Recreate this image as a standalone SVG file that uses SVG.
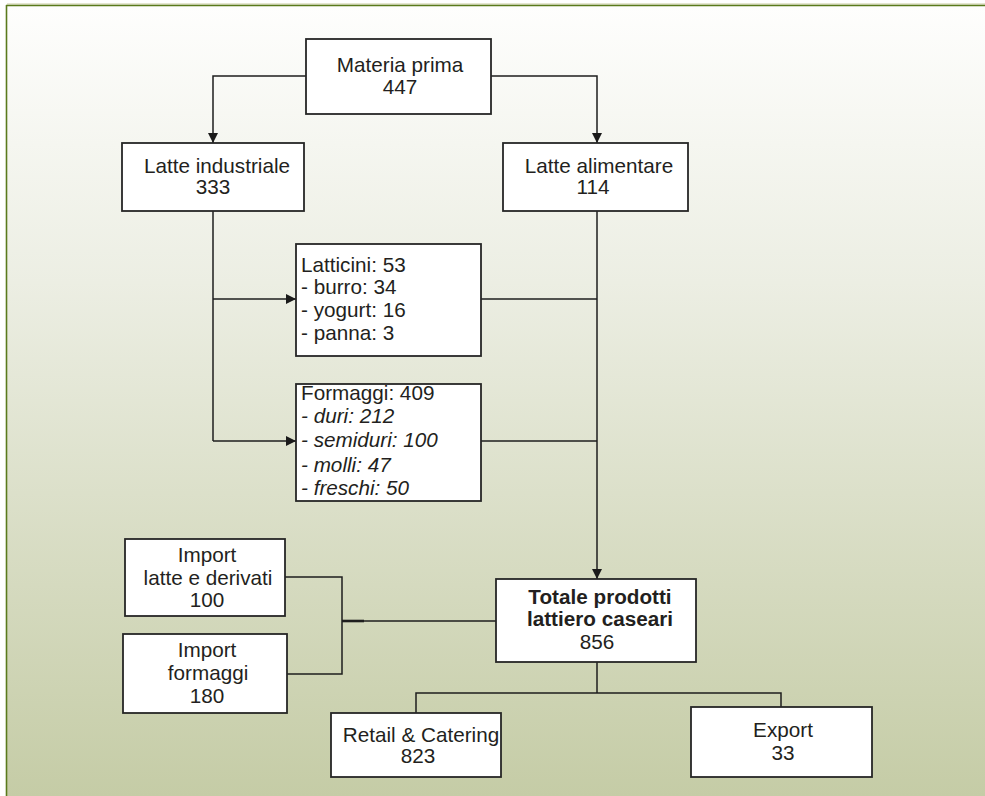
<svg xmlns="http://www.w3.org/2000/svg" width="985" height="796" viewBox="0 0 985 796">
<defs>
<linearGradient id="bg" x1="0" y1="0" x2="0" y2="1">
<stop offset="0" stop-color="#fefefd"/>
<stop offset="0.35" stop-color="#eceee3"/>
<stop offset="1" stop-color="#c5cca6"/>
</linearGradient>
<marker id="arr" viewBox="0 0 10 10" refX="10" refY="5" markerWidth="10" markerHeight="10" markerUnits="userSpaceOnUse" orient="auto">
<path d="M0,0 L10,5 L0,10 Z" fill="#1a1a1a"/>
</marker>
<style>
.box{fill:#ffffff;stroke:#262626;stroke-width:1.8}
.t{font-family:"Liberation Sans",Arial,sans-serif;font-size:20.7px;fill:#231f20}
.c{text-anchor:middle}
.b{font-weight:bold}
.i{font-style:italic}
.ln{fill:none;stroke:#1e1e1e;stroke-width:1.5}
</style>
</defs>
<rect x="0" y="0" width="985" height="796" fill="#ffffff"/>
<rect x="7" y="6" width="978" height="790" fill="url(#bg)"/>
<line x1="7" y1="4" x2="985" y2="4" stroke="#c9cda3" stroke-width="1.2"/>
<line x1="6" y1="5.5" x2="985" y2="5.5" stroke="#5a7a1c" stroke-width="1.6"/>
<line x1="6.5" y1="5" x2="6.5" y2="796" stroke="#5a7a1c" stroke-width="1.6"/>

<g id="connectors">
<path class="ln" d="M306,76 H213 V143" marker-end="url(#arr)"/>
<path class="ln" d="M491,76 H597 V143" marker-end="url(#arr)"/>
<path class="ln" d="M213,211 V441"/>
<path class="ln" d="M213,299 H296" marker-end="url(#arr)"/>
<path class="ln" d="M213,441 H296" marker-end="url(#arr)"/>
<path class="ln" d="M597,211 V579" marker-end="url(#arr)"/>
<path class="ln" d="M481,299 H597"/>
<path class="ln" d="M481,441 H597"/>
<path class="ln" d="M285,577 H342 V674 H287"/>
<path class="ln" d="M342,621 H496"/>
<path d="M342,621 H364" stroke="#1e1e1e" stroke-width="2.6"/>
<path class="ln" d="M597,662 V693"/>
<path class="ln" d="M416,713 V693 H781 V707"/>
</g>

<g id="materia-prima">
<rect class="box" x="306" y="39" width="185" height="75"/>
<text class="t c" x="400" y="72">Materia prima</text>
<text class="t c" x="400" y="94">447</text>
</g>

<g id="latte-industriale">
<rect class="box" x="122" y="143" width="182" height="68"/>
<text class="t c" x="217" y="173">Latte industriale</text>
<text class="t c" x="213" y="194">333</text>
</g>

<g id="latte-alimentare">
<rect class="box" x="503" y="143" width="185" height="68"/>
<text class="t c" x="599" y="173">Latte alimentare</text>
<text class="t c" x="593" y="194">114</text>
</g>

<g id="latticini">
<rect class="box" x="296" y="244" width="185" height="112"/>
<text class="t" x="301" y="272">Latticini: 53</text>
<text class="t" x="301" y="294">- burro: 34</text>
<text class="t" x="301" y="317">- yogurt: 16</text>
<text class="t" x="301" y="340">- panna: 3</text>
</g>

<g id="formaggi">
<rect class="box" x="296" y="384" width="185" height="117"/>
<text class="t" x="301" y="400">Formaggi: 409</text>
<text class="t i" x="301" y="423">- duri: 212</text>
<text class="t i" x="301" y="447">- semiduri: 100</text>
<text class="t i" x="301" y="472">- molli: 47</text>
<text class="t i" x="301" y="495">- freschi: 50</text>
</g>

<g id="import-latte">
<rect class="box" x="125" y="539" width="160" height="77"/>
<text class="t c" x="207" y="562">Import</text>
<text class="t c" x="208" y="585">latte e derivati</text>
<text class="t c" x="207" y="607">100</text>
</g>

<g id="import-formaggi">
<rect class="box" x="123" y="634" width="164" height="79"/>
<text class="t c" x="207" y="657">Import</text>
<text class="t c" x="208" y="680">formaggi</text>
<text class="t c" x="207" y="703">180</text>
</g>

<g id="totale">
<rect class="box" x="496" y="579" width="200" height="83"/>
<text class="t c b" x="600" y="604">Totale prodotti</text>
<text class="t c b" x="600" y="626">lattiero caseari</text>
<text class="t c" x="597" y="649">856</text>
</g>

<g id="retail">
<rect class="box" x="331" y="713" width="170" height="64"/>
<text class="t c" x="421" y="742">Retail &amp; Catering</text>
<text class="t c" x="418" y="763">823</text>
</g>

<g id="export">
<rect class="box" x="691" y="707" width="181" height="70"/>
<text class="t c" x="783" y="737">Export</text>
<text class="t c" x="783" y="760">33</text>
</g>
</svg>
